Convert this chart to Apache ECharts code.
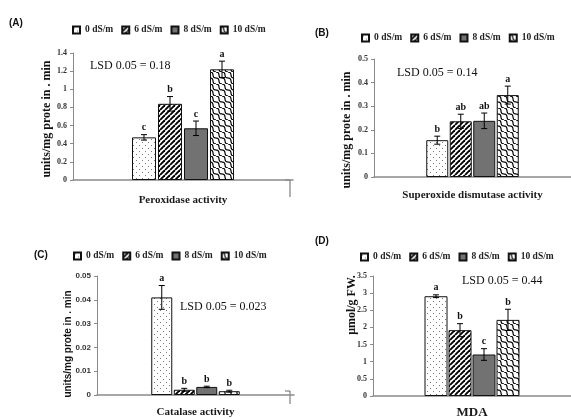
<!DOCTYPE html>
<html>
<head>
<meta charset="utf-8">
<script src="https://cdn.jsdelivr.net/npm/echarts@6/dist/echarts.min.js"></script>
<style>html,body{margin:0;padding:0;background:#fff}#c{width:571px;height:419px}</style>
</head>
<body>
<div id="c"></div>
<script>
// ---- data ----
const treatments = ['0 dS/m', '6 dS/m', '8 dS/m', '10 dS/m'];
const categoriesA = ['Peroxidase activity'];
const categoriesB = ['Superoxide dismutase activity'];
const categoriesC = ['Catalase activity'];
const categoriesD = ['MDA'];
const valuesA = [0.47, 0.84, 0.57, 1.22];
const errorsA = [0.03, 0.08, 0.08, 0.09];
const lettersA = ['c', 'b', 'c', 'a'];
const valuesB = [0.156, 0.236, 0.238, 0.347];
const errorsB = [0.017, 0.03, 0.033, 0.038];
const lettersB = ['b', 'ab', 'ab', 'a'];
const valuesC = [0.041, 0.0022, 0.0034, 0.0016];
const errorsC = [0.005, 0.0006, 0.0003, 0.0004];
const lettersC = ['a', 'b', 'b', 'b'];
const valuesD = [2.91, 1.92, 1.21, 2.22];
const errorsD = [0.04, 0.19, 0.17, 0.31];
const lettersD = ['a', 'b', 'c', 'b'];
const yMaxA = 1.4, yStepA = 0.2;
const yMaxB = 0.5, yStepB = 0.1;
const yMaxC = 0.05, yStepC = 0.01;
const yMaxD = 3.5, yStepD = 0.5;
const lsdA = 'LSD 0.05 = 0.18';
const lsdB = 'LSD 0.05 = 0.14';
const lsdC = 'LSD 0.05 = 0.023';
const lsdD = 'LSD 0.05 = 0.44';
const yNameABC = 'units/mg prote in . min';
const yNameD = 'μmol/g FW.';

// ---- patterns ----
function tile(w, h, draw) {
  const c = document.createElement('canvas');
  c.width = w; c.height = h;
  const g = c.getContext('2d');
  g.fillStyle = '#fff'; g.fillRect(0, 0, w, h);
  draw(g, w, h);
  return { image: c, repeat: 'repeat' };
}
const patDots = tile(6, 6, (g) => {
  g.fillStyle = '#7a7a7a';
  g.fillRect(1, 1, 1, 1); g.fillRect(4, 4, 1, 1);
});
const patStripes = tile(5, 5, (g, s) => {
  g.strokeStyle = '#000'; g.lineWidth = 1.9;
  for (const k of [-s, 0, s]) { g.beginPath(); g.moveTo(k, s); g.lineTo(k + s, 0); g.stroke(); }
});
const patWaves = tile(12, 12, (g, s) => {
  g.strokeStyle = '#000'; g.lineWidth = 1.2;
  const a = 1.0;
  for (const off of [-s, -s / 2, 0, s / 2, s]) {
    g.beginPath();
    for (let i = 0; i <= 60; i++) {
      const t = i / 60;
      const o = a * Math.sin(2 * Math.PI * t * 2) / Math.SQRT2;
      const px = off + s * t + o, py = s * t - o;
      if (i === 0) g.moveTo(px, py); else g.lineTo(px, py);
    }
    g.stroke();
  }
});
const fills = [patDots, patStripes, '#727272', patWaves];

const SERIF = 'Liberation Serif';
const SANS = 'Liberation Sans';

const panels = [
  { cats: categoriesA, vals: valuesA, errs: errorsA, lets: lettersA, max: yMaxA, step: yStepA,
    grid: { left: 73, top: 53, width: 220, height: 127 }, bw: 24, gap: 2, labMargin: 15, labSize: 11, tickFont: SERIF },
  { cats: categoriesB, vals: valuesB, errs: errorsB, lets: lettersB, max: yMaxB, step: yStepB,
    grid: { left: 374, top: 59, width: 197, height: 118 }, bw: 22, gap: 1.5, labMargin: 13, labSize: 11, tickFont: SERIF },
  { cats: categoriesC, vals: valuesC, errs: errorsC, lets: lettersC, max: yMaxC, step: yStepC,
    grid: { left: 97, top: 276, width: 197, height: 119 }, bw: 21, gap: 1.5, labMargin: 12, labSize: 11, tickFont: SANS },
  { cats: categoriesD, vals: valuesD, errs: errorsD, lets: lettersD, max: yMaxD, step: yStepD,
    grid: { left: 373, top: 276, width: 198, height: 121 }, bw: 23, gap: 1, labMargin: 10, labSize: 13, tickFont: SERIF }
];

const grid = [], xAxis = [], yAxis = [], series = [];
panels.forEach((p, pi) => {
  grid.push(Object.assign({ containLabel: false }, p.grid));
  xAxis.push({
    type: 'category', gridIndex: pi, data: p.cats,
    axisLine: { lineStyle: { color: '#8a8a8a', width: 1.5 } },
    axisTick: { show: false },
    axisLabel: { margin: p.labMargin, fontFamily: SERIF, fontWeight: 'bold', fontSize: p.labSize, color: '#1a1a1a' }
  });
  yAxis.push({
    type: 'value', gridIndex: pi, min: 0, max: p.max, interval: p.step,
    splitLine: { show: false },
    axisLine: { show: true, lineStyle: { color: '#8a8a8a', width: 1 } },
    axisTick: { show: true, length: 3, lineStyle: { color: '#8a8a8a' } },
    axisLabel: { margin: 6, fontFamily: p.tickFont, fontWeight: 'bold', fontSize: 8, color: '#333' }
  });
  treatments.forEach((t, ti) => {
    series.push({
      type: 'bar', name: t, xAxisIndex: pi, yAxisIndex: pi,
      data: [p.vals[ti]], barWidth: p.bw, barGap: (p.gap / p.bw * 100) + '%',
      itemStyle: { color: fills[ti], borderColor: '#111', borderWidth: 1 },
      emphasis: { disabled: true }, silent: true
    });
  });
  const pitch = p.bw + p.gap;
  series.push({
    type: 'custom', xAxisIndex: pi, yAxisIndex: pi, z: 10, silent: true,
    encode: { x: 0, y: 1 },
    data: p.vals.map((v, i) => [0, v, p.errs[i], i]),
    renderItem: (params, api) => {
      const v = api.value(1), e = api.value(2), idx = api.value(3);
      const c = api.coord([0, v]);
      const x = c[0] + (idx - 1.5) * pitch;
      const top = api.coord([0, v + e])[1];
      const bot = api.coord([0, v - e])[1];
      const st = { stroke: '#000', lineWidth: 1 };
      return {
        type: 'group',
        children: [
          { type: 'line', shape: { x1: x, y1: top, x2: x, y2: bot }, style: st },
          { type: 'line', shape: { x1: x - 3, y1: top, x2: x + 3, y2: top }, style: st },
          { type: 'line', shape: { x1: x - 3, y1: bot, x2: x + 3, y2: bot }, style: st },
          { type: 'text', x: x, y: top - 2, style: { text: p.lets[params.dataIndex], textAlign: 'center', textVerticalAlign: 'bottom',
            font: 'bold 10px "Liberation Serif"', fill: '#111' } }
        ]
      };
    }
  });
});

const legendBase = {
  data: treatments, icon: 'rect', itemWidth: 7, itemHeight: 7, itemGap: 8, selectedMode: false,
  padding: 0, width: 260, orient: 'horizontal',
  textStyle: { fontFamily: SERIF, fontWeight: 'bold', fontSize: 9.5, color: '#222' }
};
const legend = [
  Object.assign({}, legendBase, { left: 72, top: 25 }),
  Object.assign({}, legendBase, { left: 361, top: 33 }),
  Object.assign({}, legendBase, { left: 73, top: 251 }),
  Object.assign({}, legendBase, { left: 360, top: 252 })
];

function txt(text, x, y, font, opts) {
  return Object.assign({ type: 'text', x: x, y: y, silent: true,
    style: Object.assign({ text: text, font: font, fill: '#111', textAlign: 'left', textVerticalAlign: 'middle' }, (opts && opts.style) || {}) },
    (opts && opts.el) || {});
}
const graphic = [
  txt('(A)', 9, 23, 'bold 10px "Liberation Sans"'),
  txt('(B)', 315, 33, 'bold 10px "Liberation Sans"'),
  txt('(C)', 34, 255, 'bold 10px "Liberation Sans"'),
  txt('(D)', 315, 241, 'bold 10px "Liberation Sans"'),
  txt(lsdA, 90, 66, '12px "Liberation Serif"'),
  txt(lsdB, 397, 73, '12px "Liberation Serif"'),
  txt(lsdC, 180, 307, '12px "Liberation Serif"'),
  txt(lsdD, 462, 281, '12px "Liberation Serif"'),
  txt(yNameABC, 47, 119, 'bold 12px "Liberation Serif"', { style: { textAlign: 'center' }, el: { rotation: Math.PI / 2 } }),
  txt(yNameABC, 347, 130, 'bold 12px "Liberation Serif"', { style: { textAlign: 'center' }, el: { rotation: Math.PI / 2 } }),
  txt(yNameABC, 68, 344, 'bold 10px "Liberation Sans"', { style: { textAlign: 'center' }, el: { rotation: Math.PI / 2 } }),
  txt(yNameD, 352, 305, 'bold 12px "Liberation Serif"', { style: { textAlign: 'center' }, el: { rotation: Math.PI / 2 } }),
  { type: 'polyline', silent: true, shape: { points: [[285, 180], [290, 180], [290, 197]] }, style: { stroke: '#666', lineWidth: 1, fill: null } },
  { type: 'polyline', silent: true, shape: { points: [[285, 391], [290, 391], [290, 404]] }, style: { stroke: '#666', lineWidth: 1, fill: null } }
];

const chart = echarts.init(document.getElementById('c'), null, { renderer: 'canvas' });
chart.setOption({
  animation: false,
  backgroundColor: '#fff',
  grid: grid, xAxis: xAxis, yAxis: yAxis, legend: legend, series: series, graphic: graphic
});
</script>
</body>
</html>
